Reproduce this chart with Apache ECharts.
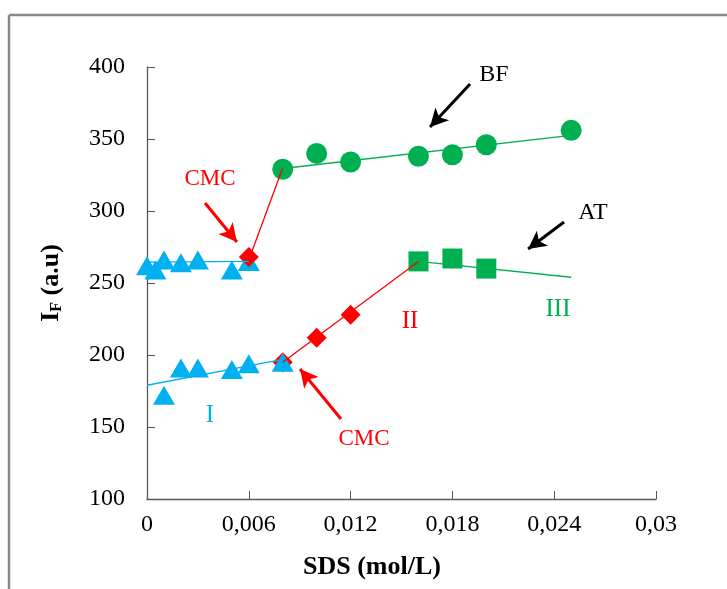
<!DOCTYPE html>
<html>
<head>
<meta charset="utf-8">
<script src="https://cdn.jsdelivr.net/npm/echarts@6/dist/echarts.min.js"></script>
<style>html,body{margin:0;padding:0;background:#fff}#c{width:727px;height:589px}</style>
</head>
<body>
<div id="c"></div>
<script>
// ---- data ----
const xTicks = [0, 0.006, 0.012, 0.018, 0.024, 0.03];
const yTicks = [100, 150, 200, 250, 300, 350, 400];

// BF curve
const bfTriX = [0, 0.0005, 0.001, 0.002, 0.003, 0.005, 0.006];
const bfTriY = [262, 259, 266, 264, 266, 259, 265];
const bfDiaX = [0.006];
const bfDiaY = [268];
const bfCirX = [0.008, 0.01, 0.012, 0.016, 0.018, 0.02, 0.025];
const bfCirY = [329, 340, 334, 338, 339, 346, 356];

// AT curve
const atTriX = [0.001, 0.002, 0.003, 0.005, 0.006, 0.008];
const atTriY = [172, 191, 191, 190, 194, 195];
const atDiaX = [0.008, 0.01, 0.012];
const atDiaY = [195, 212, 228];
const atSqX = [0.016, 0.018, 0.02];
const atSqY = [265, 267, 260];

// trend lines (endpoints)
const bfLineIX = [0, 0.006], bfLineIY = [264.5, 265];
const bfLineIIX = [0.006, 0.008], bfLineIIY = [266, 330];
const bfLineIIIX = [0.008, 0.025], bfLineIIIY = [329.5, 352.5];
const atLineIX = [0, 0.008], atLineIY = [179, 197];
const atLineIIX = [0.008, 0.016], atLineIIY = [195, 265];
const atLineIIIX = [0.016, 0.025], atLineIIIY = [265, 254];

// arrows [x1,y1,x2,y2] in data units (tail -> tip)
const arrowBF = [0.01904, 388.2, 0.01668, 358.3];
const arrowAT = [0.02458, 292.4, 0.02246, 273.6];
const arrowCMC1 = [0.00342, 305.6, 0.0053, 278.5];
const arrowCMC2 = [0.01143, 155.6, 0.00902, 190.3];

const BLUE = '#00B0F0', RED = '#FF0000', GREEN = '#00B050';
const FONT = '"Liberation Serif", "Times New Roman", serif';

const zip = (xs, ys) => xs.map((x, i) => [x, ys[i]]);

function scatter(xs, ys, symbol, size, color, z) {
  return { type: 'scatter', data: zip(xs, ys), symbol: symbol, symbolSize: size,
    itemStyle: { color: color, opacity: 1 }, z: z, silent: true };
}
function line(xs, ys, color) {
  return { type: 'line', data: zip(xs, ys), showSymbol: false, symbol: 'none',
    lineStyle: { color: color, width: 1.3 }, z: 5, silent: true };
}
function arrow(a, color) {
  return { type: 'line', data: [], silent: true, z: 6,
    markLine: { silent: true, animation: false, symbol: ['none', 'arrow'], symbolSize: [14, 18],
      lineStyle: { color: color, width: 3, type: 'solid' }, label: { show: false },
      data: [[{ coord: [a[0], a[1]] }, { coord: [a[2], a[3]] }]] } };
}

const chart = echarts.init(document.getElementById('c'), null, { renderer: 'canvas' });
const fmt = v => { if (v === 0) return '0'; return String(parseFloat(v.toFixed(4))).replace('.', ','); };

chart.setOption({
  animation: false,
  backgroundColor: '#fff',
  grid: { left: 147, right: 71, top: 67, bottom: 90 },
  xAxis: {
    type: 'value', min: 0, max: 0.03, interval: 0.006,
    axisLine: { lineStyle: { color: '#595959', width: 1.3 } },
    axisTick: { inside: true, length: 8, lineStyle: { color: '#595959' } },
    axisLabel: { formatter: fmt, fontFamily: FONT, fontSize: 24, color: '#000', margin: 14 },
    splitLine: { show: false }
  },
  yAxis: {
    type: 'value', min: 100, max: 400, interval: 50,
    name: '{b|I}{s|F}{b| (a.u)}', nameLocation: 'middle', nameGap: 82, nameRotate: 90,
    nameTextStyle: { fontFamily: FONT, fontSize: 26, fontWeight: 'bold', color: '#000',
      rich: { b: { fontFamily: FONT, fontSize: 26, fontWeight: 'bold', color: '#000' },
              s: { fontFamily: FONT, fontSize: 16, fontWeight: 'bold', color: '#000', padding: [12, 0, 0, 0] } } },
    axisLine: { show: true, lineStyle: { color: '#595959', width: 1.3 } },
    axisTick: { show: true, inside: true, length: 8, lineStyle: { color: '#595959' } },
    axisLabel: { fontFamily: FONT, fontSize: 24, color: '#000', margin: 22 },
    splitLine: { show: false }
  },
  series: [
    scatter(bfTriX, bfTriY, 'triangle', [22, 19], BLUE, 2),
    scatter(bfDiaX, bfDiaY, 'diamond', [20, 20], RED, 3),
    scatter(bfCirX, bfCirY, 'circle', 21, GREEN, 2),
    scatter(atDiaX, atDiaY, 'diamond', [20, 20], RED, 2),
    scatter(atTriX, atTriY, 'triangle', [22, 19], BLUE, 3),
    scatter(atSqX, atSqY, 'rect', 20, GREEN, 2),
    line(bfLineIX, bfLineIY, BLUE),
    line(bfLineIIX, bfLineIIY, RED),
    line(bfLineIIIX, bfLineIIIY, GREEN),
    line(atLineIX, atLineIY, BLUE),
    line(atLineIIX, atLineIIY, RED),
    line(atLineIIIX, atLineIIIY, GREEN),
    arrow(arrowBF, '#000'),
    arrow(arrowAT, '#000'),
    arrow(arrowCMC1, RED),
    arrow(arrowCMC2, RED)
  ],
  graphic: [
    { type: 'line', shape: { x1: 9, y1: 15, x2: 727, y2: 15 }, style: { stroke: '#888', lineWidth: 2.5 }, silent: true },
    { type: 'line', shape: { x1: 9, y1: 15, x2: 9, y2: 589 }, style: { stroke: '#888', lineWidth: 2.5 }, silent: true },
    { type: 'text', x: 372, y: 567, style: { text: 'SDS (mol/L)', font: 'bold 26px ' + FONT, fill: '#000', align: 'center', verticalAlign: 'middle' } },
    { type: 'text', x: 494, y: 75, style: { text: 'BF', font: '24px ' + FONT, fill: '#000', align: 'center', verticalAlign: 'middle' } },
    { type: 'text', x: 593, y: 213, style: { text: 'AT', font: '24px ' + FONT, fill: '#000', align: 'center', verticalAlign: 'middle' } },
    { type: 'text', x: 210, y: 179, style: { text: 'CMC', font: '23px ' + FONT, fill: RED, align: 'center', verticalAlign: 'middle' } },
    { type: 'text', x: 364, y: 439, style: { text: 'CMC', font: '23px ' + FONT, fill: RED, align: 'center', verticalAlign: 'middle' } },
    { type: 'text', x: 210, y: 415, style: { text: 'I', font: '25px ' + FONT, fill: BLUE, align: 'center', verticalAlign: 'middle' } },
    { type: 'text', x: 410, y: 321, style: { text: 'II', font: '25px ' + FONT, fill: RED, align: 'center', verticalAlign: 'middle' } },
    { type: 'text', x: 558, y: 309, style: { text: 'III', font: '25px ' + FONT, fill: GREEN, align: 'center', verticalAlign: 'middle' } }
  ]
});
</script>
</body>
</html>
